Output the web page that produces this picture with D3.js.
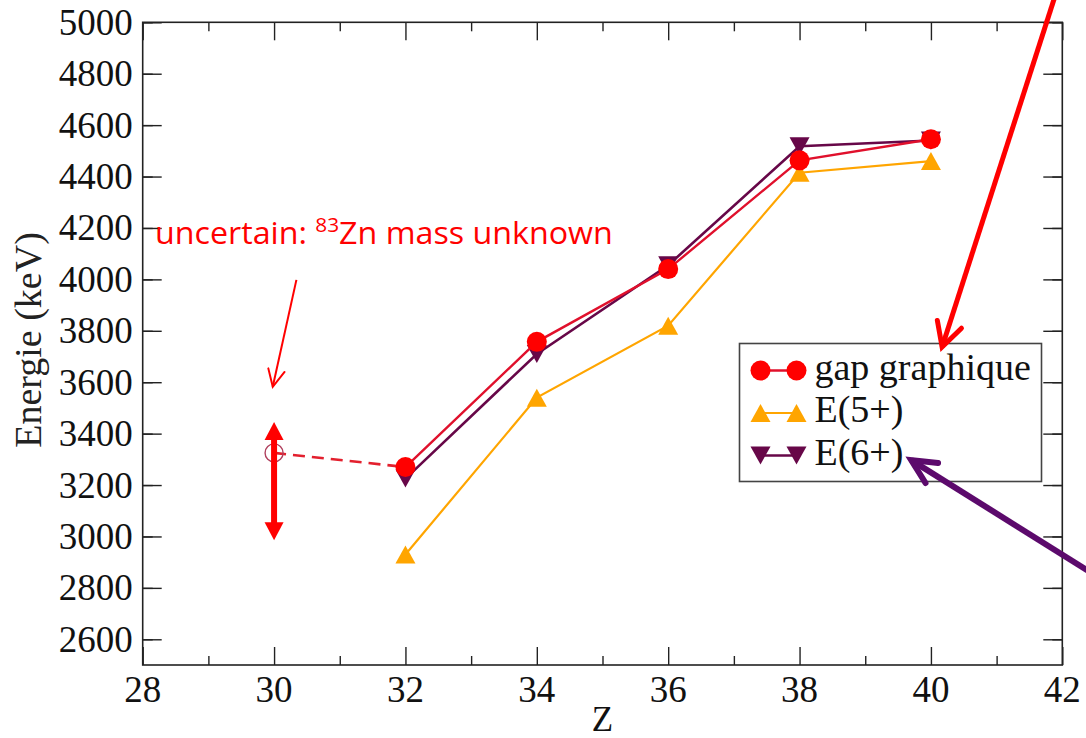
<!DOCTYPE html>
<html>
<head>
<meta charset="utf-8">
<script src="https://cdn.jsdelivr.net/npm/d3@7"></script>
<style>
  body { margin: 0; background: #fff; }
  svg { display: block; }
  .serif { font-family: "Liberation Serif", "Times New Roman", Times, serif; }
  .note { font-family: "Open Sans", "Liberation Sans", sans-serif; }
</style>
</head>
<body>
<svg></svg>
<script>
// data (Z, energy in keV)
var zValues = [32, 34, 36, 38, 40];
var gapValues = [3270, 3757, 4040, 4463, 4545];
var e5Values = [2930, 3540, 3820, 4415, 4460];
var e6Values = [3225, 3710, 4055, 4518, 4540];
var uncertainZ = 30, uncertainValue = 3325;
var legendLabels = ["gap graphique", "E(5+)", "E(6+)"];
var xTicks = [28, 30, 32, 34, 36, 38, 40, 42];
var yTicks = [2600, 2800, 3000, 3200, 3400, 3600, 3800, 4000, 4200, 4400, 4600, 4800, 5000];

const width = 1086, height = 738;
var margin = {top: 22.3, right: 23.7, bottom: 73, left: 142.7};

var svg = d3.select("svg").attr("width", width).attr("height", height);

var x = d3.scaleLinear().domain([28, 42]).range([margin.left, width - margin.right]);
var y = d3.scaleLinear().domain([2500, 5000]).range([height - margin.bottom, margin.top]);

var red = "#ff0000", orange = "#ffa500", maroon = "#670748";

// frame with inward ticks on all 4 sides
var frame = svg.append("g");
var xMinor = d3.range(29, 42, 2);
var yMinor = d3.range(2500, 5000, 200).map(function(v){ return v + 100; });

function tickSide(axisFn, ticks, len, transform) {
  frame.append("g")
    .attr("transform", transform)
    .call(axisFn.tickValues(ticks).tickSize(len).tickFormat(""))
    .call(function(g){ g.select(".domain").remove(); })
    .selectAll("line").attr("stroke", "#222").attr("stroke-width", 1.4);
}
var bottomY = y(2500), topY = y(5000), leftX = x(28), rightX = x(42);
tickSide(d3.axisTop(x), xTicks, 18, "translate(0," + bottomY + ")");
tickSide(d3.axisTop(x), xMinor, 9, "translate(0," + bottomY + ")");
tickSide(d3.axisBottom(x), xTicks, 18, "translate(0," + topY + ")");
tickSide(d3.axisBottom(x), xMinor, 9, "translate(0," + topY + ")");
tickSide(d3.axisRight(y), yTicks, 19, "translate(" + leftX + ",0)");
tickSide(d3.axisRight(y), yMinor, 10, "translate(" + leftX + ",0)");
tickSide(d3.axisLeft(y), yTicks, 19, "translate(" + rightX + ",0)");
tickSide(d3.axisLeft(y), yMinor, 10, "translate(" + rightX + ",0)");

frame.append("rect")
  .attr("x", leftX).attr("y", topY)
  .attr("width", rightX - leftX).attr("height", bottomY - topY)
  .attr("fill", "none").attr("stroke", "#222").attr("stroke-width", 1.6);

// tick labels
svg.append("g").attr("class", "serif").selectAll("text").data(xTicks).enter().append("text")
  .attr("x", function(d){ return x(d); })
  .attr("y", bottomY + 37)
  .attr("text-anchor", "middle")
  .attr("font-size", 37).attr("fill", "#111")
  .text(function(d){ return d; });

svg.append("g").attr("class", "serif").selectAll("text").data(yTicks).enter().append("text")
  .attr("x", leftX - 10)
  .attr("y", function(d){ return y(d) + 12.5; })
  .attr("text-anchor", "end")
  .attr("font-size", 37).attr("fill", "#111")
  .text(function(d){ return d; });

// axis titles
svg.append("text").attr("class", "serif")
  .attr("x", x(35)).attr("y", height - 7)
  .attr("text-anchor", "middle")
  .attr("font-size", 35).attr("fill", "#111")
  .text("Z");
svg.append("text").attr("class", "serif")
  .attr("transform", "translate(41,340) rotate(-90)")
  .attr("text-anchor", "middle")
  .attr("font-size", 38).attr("fill", "#222")
  .text("Energie (keV)");

// symbols
function triUp(w, h) { return "M0," + (-h/2) + "L" + (w/2) + "," + (h/2) + "L" + (-w/2) + "," + (h/2) + "Z"; }
function triDown(w, h) { return "M0," + (h/2) + "L" + (w/2) + "," + (-h/2) + "L" + (-w/2) + "," + (-h/2) + "Z"; }

var series = [
  {name: legendLabels[1], values: e5Values, line: orange, fill: orange, shape: "up", lw: 2.2},
  {name: legendLabels[2], values: e6Values, line: maroon, fill: maroon, shape: "down", lw: 2.6},
  {name: legendLabels[0], values: gapValues, line: "#e0102c", fill: red, shape: "circle", lw: 2.4}
];

// dashed link to the uncertain point
var plot = svg.append("g");
plot.append("line")
  .attr("x1", x(uncertainZ)).attr("y1", y(uncertainValue))
  .attr("x2", x(zValues[0])).attr("y2", y(gapValues[0]))
  .attr("stroke", "#e3202e").attr("stroke-width", 2.6)
  .attr("stroke-dasharray", "12,7");
plot.append("circle")
  .attr("cx", x(uncertainZ)).attr("cy", y(uncertainValue)).attr("r", 9)
  .attr("fill", "none").attr("stroke", "#b0405e").attr("stroke-width", 1.4);

var line = d3.line()
  .x(function(d, i){ return x(zValues[i]); })
  .y(function(d){ return y(d); });

function drawMarker(sel, s) {
  if (s.shape === "circle") {
    sel.append("circle").attr("r", 10).attr("fill", s.fill);
  } else {
    sel.append("path").attr("d", s.shape === "up" ? triUp(20, 18) : triDown(20, 18)).attr("fill", s.fill);
  }
}

series.forEach(function(s) {
  plot.append("path").datum(s.values)
    .attr("d", line)
    .attr("fill", "none").attr("stroke", s.line).attr("stroke-width", s.lw);
  plot.append("g").selectAll("g").data(s.values).enter().append("g")
    .attr("transform", function(d, i){ return "translate(" + x(zValues[i]) + "," + y(d) + ")"; })
    .each(function(){ drawMarker(d3.select(this), s); });
});

// legend
var legendOrder = [series[2], series[0], series[1]];
var legend = svg.append("g").attr("transform", "translate(739.5,343.5)");
legend.append("rect").attr("width", 302).attr("height", 138)
  .attr("fill", "#fff").attr("stroke", "#444").attr("stroke-width", 1.6);
legendOrder.forEach(function(s, i) {
  var row = legend.append("g").attr("transform", "translate(0," + (27 + i * 42.5) + ")");
  row.append("line").attr("x1", 21).attr("x2", 57).attr("stroke", s.line).attr("stroke-width", s.lw);
  [21, 57].forEach(function(cx) {
    drawMarker(row.append("g").attr("transform", "translate(" + cx + ",0)"), s);
  });
  row.append("text").attr("class", "serif").attr("x", 75).attr("y", 9)
    .attr("font-size", 38).attr("fill", "#111")
    .text(s.name);
});

// annotations
var note = svg.append("g");
var ann = note.append("text").attr("class", "note")
  .attr("x", 155).attr("y", 244)
  .attr("font-size", 31).attr("fill", red);
ann.append("tspan").text("uncertain: ");
ann.append("tspan").attr("font-size", 20).attr("dy", -12).text("83");
ann.append("tspan").attr("dy", 12).text("Zn mass unknown");
// fit the note to its width in the picture
var annW = ann.node().getComputedTextLength();
if (annW > 0) {
  var k = 458 / annW;
  ann.attr("transform", "translate(155,0) scale(" + k + ",1) translate(-155,0)");
}

function arrow(from, to, color, w, armLen, armAngle) {
  var x1 = x(from[0]), y1 = y(from[1]), x2 = x(to[0]), y2 = y(to[1]);
  var a = Math.atan2(y1 - y2, x1 - x2);
  var r = armAngle * Math.PI / 180;
  note.append("line").attr("x1", x1).attr("y1", y1).attr("x2", x2).attr("y2", y2)
    .attr("stroke", color).attr("stroke-width", w);
  note.append("path")
    .attr("d", "M" + (x2 + armLen * Math.cos(a + r)) + "," + (y2 + armLen * Math.sin(a + r)) +
               "L" + x2 + "," + y2 +
               "L" + (x2 + armLen * Math.cos(a - r)) + "," + (y2 + armLen * Math.sin(a - r)))
    .attr("fill", "none").attr("stroke", color).attr("stroke-width", w)
    .attr("stroke-linejoin", "miter").attr("stroke-linecap", "round");
}
arrow([30.34, 3998], [29.98, 3582], red, 2, 19, 26);
arrow([41.95, 5150], [40.17, 3737], red, 5, 27, 28);
arrow([42.42, 2862], [39.70, 3297], "#5c0a6c", 6, 27, 26);

// vertical double arrow on the uncertain point
var da = note.append("g").attr("fill", red);
var arrowTop = y(3445), arrowBot = y(2985), cx0 = x(uncertainZ);
da.append("rect").attr("x", cx0 - 3).attr("y", arrowTop + 14).attr("width", 6).attr("height", arrowBot - arrowTop - 28);
da.append("path").attr("d", "M" + cx0 + "," + arrowTop + "l9.5,18l-19,0Z");
da.append("path").attr("d", "M" + cx0 + "," + arrowBot + "l9.5,-18l-19,0Z");
</script>
</body>
</html>
